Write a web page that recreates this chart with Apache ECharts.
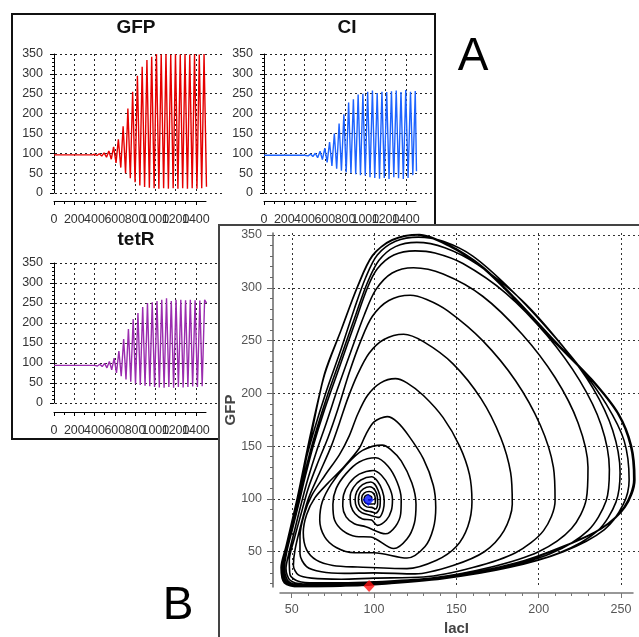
<!DOCTYPE html>
<html><head><meta charset="utf-8">
<script src="https://cdn.jsdelivr.net/npm/echarts@6/dist/echarts.min.js"></script>
<style>html,body{margin:0;padding:0;background:#fff}#c{width:639px;height:637px}</style>
</head><body><div id="c"></div>
<script>
// ---- tick values ----
const timeTicks = [0, 200, 400, 600, 800, 1000, 1200, 1400];
const timeLabelsA = [0, 400, 800, 1200];
const timeLabelsB = [200, 600, 1000, 1400];
const levelTicks = [0, 50, 100, 150, 200, 250, 300, 350];
const lacITicks = [50, 100, 150, 200, 250];
const gfpTicks = [50, 100, 150, 200, 250, 300, 350];

// ---- time series (time, value) ----
const gfpTrace = [[0,96],[380,96],[400,97.5],[424,94.5],[447,99],[471,93],[494,101],[518,90],[541,106],[565,85],[588,116],[612,76],[635,135],[659,64],[682,168],[706,50],[729,213],[753,37],[776,255],[800,27],[823,295],[847,19],[870,318],[894,15],[917,335],[941,13],[964,343],[988,12],[1011,350],[1035,11],[1058,349],[1082,12],[1105,350],[1129,11],[1152,348],[1176,12],[1199,350],[1223,11],[1246,349],[1270,12],[1293,350],[1317,11],[1340,349],[1364,12],[1387,350],[1411,11],[1434,349],[1458,12],[1481,350],[1505,16]];
const ciTrace = [[0,95],[400,95],[412,96.5],[435,93.5],[459,98],[482,92],[506,100],[529,89],[553,105],[576,84],[600,113],[623,77],[647,128],[670,68],[694,150],[717,61],[741,175],[764,56],[788,198],[811,52],[835,228],[858,50],[882,236],[905,47],[929,248],[952,45],[976,250],[999,44],[1023,255],[1046,40],[1070,258],[1093,38],[1117,252],[1140,36],[1164,255],[1187,38],[1211,254],[1234,35],[1258,256],[1281,40],[1305,258],[1328,37],[1352,254],[1375,35],[1399,259],[1422,38],[1446,255],[1469,45],[1493,257],[1505,55]];
const tetRTrace = [[0,94],[400,94],[405,95.5],[428,92.5],[452,97],[475,91],[499,99],[522,88],[546,104],[569,83],[593,112],[616,75],[640,130],[663,67],[687,160],[710,59],[734,185],[757,53],[781,210],[804,48],[828,225],[851,45],[875,240],[898,43],[922,250],[945,42],[969,252],[992,40],[1016,255],[1039,39],[1063,258],[1086,38],[1110,262],[1133,40],[1157,255],[1180,38],[1204,258],[1227,40],[1251,258],[1274,39],[1298,257],[1321,40],[1345,258],[1368,41],[1392,257],[1415,40],[1439,256],[1462,42],[1486,258],[1505,250]];

// ---- phase trajectory (lacI, GFP), spiralling outwards ----
const phaseTrajectory = [
[96.5,99],[98.2,99.4],[98.6,101.6],[97.2,103.2],
[96.5,104],[94.5,102.5],[94,99],[95,96],[97.5,95.2],
[100.5,95.5],[100.8,100.5],[99.5,105.5],
[97,107],[94,105.5],[92.5,101],[93,96],[95.5,92.5],[98.5,92],
[101,90.5],[102.2,95.5],[102,102],[100.5,108.5],
[97.5,111.6],[93.5,109.5],[91,104.5],[90.5,98],[91.5,92.5],[94.5,89],[98,88],
[101,86.5],[103.5,92],[103.8,100],[102.5,108],[100.5,113.8],
[98,116],[93,113.5],[89.5,107],[88.5,99],[89.5,92],[92.5,87],[97,84.8],
[103,82.5],[105.5,89],[106.2,98],[105,108],[102,117],
[98.5,121],[92,118],[87.5,111],[85.5,102],[86,93],[88.5,86],[93,81],[98.5,80],
[102,75],[107.5,80],[110.5,89],[111.2,100],[109,112],[104.5,122.5],
[99.5,127],[91,123.5],[85,115],[81.5,104],[81,93],[83,83],[88,76.5],[95,73.7],
[107,67],[113,74],[116.2,86],[116.5,100],[114,116],[108.5,131],
[101,139],[91,135],[83,124],[77,110],[75,95],[76,80],[81,70],[89,64.5],[98,64],
[112,53],[120,62],[124.5,77],[125.5,95],[123,115],[116.5,136],[110,147],
[105,151],[93,146],[83,132],[74,114],[68.5,97],[67,80],[70,64],[77,54],[88,49],[100,49],
[120,44],[131,55],[136,72],[137.5,92],[136,113],[130,138],[121,160],[114,173],
[108,178],[100,173],[95,161],[91,148],[82,131],[72,115],[64,101],[59,85],[57,68],[59,52],[65,42],[75,37],[90,35.5],
[120,34],[138,42],[150,55],[157,74],[159.5,97],[158,123],[152,150],[142,177],[130,198],[120,210],
[113,214],[104,210],[96,198],[90,180],[85,160],[79,142],[70,122],[62,103],[57.5,85],[55,65],[55,48],[59,36],[68,31],[82,29.5],[100,30],
[125,29],[148,37],[167,50],[179,70],[184,95],[183,125],[177,158],[165,195],[148,228],[130,249],
[118,256],[106,251],[97,238],[90,218],[84,195],[79,172],[74,150],[67,125],[60,100],[55.5,75],[52,52],[51,37],[54,28],[62,25],[80,24],[100,25],
[130,26],[160,35],[186,49],[203,70],[210,98],[209,130],[201,170],[186,212],[166,250],[145,278],[132,289],
[122,293],[109,288],[99,273],[92,250],[85,220],[78,185],[72,158],[66,135],[60,110],[55.5,85],[51.5,62],[48.5,42],[49,28],[54,22],[64,20.5],[80,20.5],[100,21.5],
[135,25],[170,35],[200,50],[220,72],[229,100],[230,130],[224,172],[210,215],[190,256],[166,292],[142,313],
[124,319],[111,314],[101,298],[94,274],[86,240],[78,205],[71,172],[65,145],[60,120],[56,97],[52,72],[48.5,50],[46.5,34],[49,23],[57,19.5],[80,19],[100,20],
[138,24.5],[175,34],[207,48],[230,70],[241,98],[243,128],[238,170],[225,212],[205,255],[180,295],[154,323],[137,333],
[125,335],[112,331],[102,318],[96,300],[88,265],[79,225],[70,185],[63,150],[58,120],[54.5,97],[50.5,72],[47,50],[45.5,34],[48,22],[56,18.5],[80,18.5],[100,19.5],
[140,24.5],[178,34],[212,48.5],[236,70],[247,97],[249.5,125],[245,165],[233,205],[214,246],[190,288],[163,322],[143,338],
[126,343],[113,339],[103,326],[96,305],[89,275],[80,235],[71,195],[63,155],[57.5,122],[54,98],[50,72],[46.5,50],[45,34],[47,21.5],[55,18],[80,18],[100,19],
[142,24.5],[182,35],[215,50],[240,71],[251.5,95],[255,118],[252,155],[241,190],[225,225],[205,262],[182,300],[160,330],[142,344],
[127,348],[113,344],[102,331],[95,310],[88,280],[80,242],[71,202],[63,162],[57,127],[54,102],[49.5,73],[46,50],[44.5,34],[46.5,21],[55,17.5],[80,17.5],[100,18.8],
[145,26],[186,39],[215,55],[238,72],[252,92],[258,118],[256,150],[248,181],[232,213],[210,248],[185,290],[165,320],[145,340],
[127,350],[111,345],[99,330],[90,301],[80,260],[70,219],[62,162],[54,102],[47,55],[44,35],[46,21],[55,17],[75,17.5],[100,19],
[145,25.7],[186,38.7],[215,54.7],[238,71.7],[252.5,92],[258.5,118],[256.5,150],[248.5,181],[232.5,213],[210.5,248.5],[185.5,290.5],[165.5,320.5],[145.5,340.5],
[127.5,350.5],[111,345.5],[99,330.5],[90,301.5],[80,260],[70,218],[61.5,162],[53.5,102],[46.5,55],[43.5,35],[45.5,20.5],[55,16.8],[75,17.2],[100,18.7],
[145,26.2],[186,39.2],[215,55.2],[238,72.2],[252,92.5],[257.8,118.5],[255.8,150.5],[247.8,181.5],[232,213.5],[210,248],[185,290],[165,320],[145,340],
[127,350],[111,345],[99,330],[90,301],[80,260],[70,218.5],[62,162],[54,102],[47,55],[44,35],[46,21],[55,17.2],[75,17.6],[97,18.6]
];
const startPoint = [96.5, 99];
const endPoint = [97, 17.5];

const FONT = 'Liberation Sans, Arial, sans-serif';
const dotted = (c) => ({ show: true, lineStyle: { type: [2, 3], color: c, width: 1 } });
const plain = (v) => String(v);
const labelBase = { fontSize: 12.5, color: '#333', fontFamily: FONT, interval: 0,
  showMinLabel: true, showMaxLabel: true, hideOverlap: false, formatter: plain };

function smallMain(grid, max) {
  return {
    // hidden scale for the dotted time grid; it also carries every second time label
    x: { gridIndex: grid, type: 'value', min: -40, max: max, position: 'bottom',
         axisLine: { show: false, onZero: false },
         axisLabel: Object.assign({}, labelBase, { customValues: timeLabelsB, margin: 20 }),
         axisTick: { show: false, customValues: timeTicks },
         splitLine: dotted('#222') },
    y: { gridIndex: grid, type: 'value', min: 0, max: 350, splitNumber: 7,
         axisLine: { show: true, lineStyle: { color: '#000', width: 1 } },
         axisTick: { show: true, customValues: levelTicks, length: 4, lineStyle: { color: '#000' } },
         minorTick: { show: true, splitNumber: 5, length: 2, lineStyle: { color: '#000' } },
         axisLabel: Object.assign({}, labelBase, { customValues: levelTicks, margin: 7 }),
         splitLine: dotted('#222') }
  };
}
function smallAxis(grid) {
  return {
    x: { gridIndex: grid, type: 'value', min: 0, max: 1500, splitNumber: 8, position: 'bottom',
         axisLine: { show: true, onZero: false, lineStyle: { color: '#000', width: 1 } },
         axisTick: { show: true, customValues: timeTicks, length: 4, lineStyle: { color: '#000' } },
         minorTick: { show: true, splitNumber: 2, length: 3, lineStyle: { color: '#000' } },
         axisLabel: Object.assign({}, labelBase, { customValues: timeLabelsA, margin: 12 }),
         splitLine: { show: false } },
    y: { gridIndex: grid, type: 'value', min: 0, max: 1, show: false }
  };
}

const g0 = smallMain(0, 1678), g1 = smallAxis(1);
const g2 = smallMain(2, 1678), g3 = smallAxis(3);
const g4 = smallMain(4, 1628), g5 = smallAxis(5);
g4.x.axisLabel.margin = 21;

const bMainX = { gridIndex: 6, type: 'value', min: 38.6, max: 261,
  axisLine: { show: false }, axisLabel: { show: false },
  axisTick: { show: false, customValues: lacITicks }, splitLine: dotted('#333') };
const bMainY = { gridIndex: 6, type: 'value', min: 16.6, max: 351.9, splitNumber: 7,
  axisLine: { show: true, lineStyle: { color: '#666', width: 1.5 } },
  axisTick: { show: true, customValues: gfpTicks, length: 6, lineStyle: { color: '#666' } },
  minorTick: { show: true, splitNumber: 5, length: 3, lineStyle: { color: '#666' } },
  axisLabel: Object.assign({}, labelBase, { customValues: gfpTicks, margin: 11, color: '#555' }),
  splitLine: dotted('#333'),
  name: 'GFP', nameLocation: 'middle', nameGap: 35, nameRotate: 90, nameMoveOverlap: false,
  nameTextStyle: { fontSize: 15, fontWeight: 'bold', color: '#444', fontFamily: FONT } };
const bAxisX = { gridIndex: 7, type: 'value', min: 42.9, max: 257.3, position: 'bottom',
  axisLine: { show: true, onZero: false, lineStyle: { color: '#777', width: 1.5 } },
  axisTick: { show: true, customValues: lacITicks, length: 5, lineStyle: { color: '#777' } },
  minorTick: { show: true, splitNumber: 5, length: 3, lineStyle: { color: '#777' } },
  axisLabel: Object.assign({}, labelBase, { customValues: lacITicks, margin: 10, color: '#555' }),
  splitLine: { show: false },
  name: 'lacI', nameLocation: 'middle', nameGap: 28, nameMoveOverlap: false,
  nameTextStyle: { fontSize: 15, fontWeight: 'bold', color: '#444', fontFamily: FONT } };
const bAxisY = { gridIndex: 7, type: 'value', min: 0, max: 1, show: false };

const chart = echarts.init(document.getElementById('c'), null, { renderer: 'canvas' });
chart.setOption({
  animation: false,
  backgroundColor: '#fff',
  grid: [
    { left: 50, top: 54, width: 174, height: 139 },
    { left: 54, top: 190, width: 152, height: 11 },
    { left: 260, top: 54, width: 174, height: 139 },
    { left: 264, top: 190, width: 152, height: 11 },
    { left: 50, top: 263, width: 169, height: 140 },
    { left: 54, top: 401, width: 152, height: 11 },
    { left: 273, top: 233, width: 366, height: 354 },
    { left: 280, top: 585, width: 353, height: 10 }
  ],
  xAxis: [g0.x, g1.x, g2.x, g3.x, g4.x, g5.x, bMainX, bAxisX],
  yAxis: [g0.y, g1.y, g2.y, g3.y, g4.y, g5.y, bMainY, bAxisY],
  graphic: [
    { type: 'polyline', shape: { points: [[219,439],[12,439],[12,14],[435,14],[435,224]] },
      style: { stroke: '#111', lineWidth: 2, fill: null }, z: 10 },
    { type: 'rect', shape: { x: 219, y: 225, width: 440, height: 440 },
      style: { stroke: '#444', lineWidth: 2, fill: null }, z: 10 },
    { type: 'text', x: 136, y: 28, style: { text: 'GFP', align: 'center', verticalAlign: 'middle', font: 'bold 19px ' + FONT, fill: '#111' } },
    { type: 'text', x: 347, y: 28, style: { text: 'CI', align: 'center', verticalAlign: 'middle', font: 'bold 19px ' + FONT, fill: '#111' } },
    { type: 'text', x: 136, y: 240, style: { text: 'tetR', align: 'center', verticalAlign: 'middle', font: 'bold 19px ' + FONT, fill: '#111' } },
    { type: 'text', x: 473, y: 57, style: { text: 'A', align: 'center', verticalAlign: 'middle', font: '46px ' + FONT, fill: '#000' } },
    { type: 'text', x: 178, y: 606, style: { text: 'B', align: 'center', verticalAlign: 'middle', font: '46px ' + FONT, fill: '#000' } }
  ],
  series: [
    { type: 'line', xAxisIndex: 0, yAxisIndex: 0, data: gfpTrace, showSymbol: false, symbol: 'none',
      lineStyle: { color: '#e60000', width: 1.4 }, z: 3 },
    { type: 'line', xAxisIndex: 2, yAxisIndex: 2, data: ciTrace, showSymbol: false, symbol: 'none',
      lineStyle: { color: '#1e64ff', width: 1.4 }, z: 3 },
    { type: 'line', xAxisIndex: 4, yAxisIndex: 4, data: tetRTrace, showSymbol: false, symbol: 'none',
      lineStyle: { color: '#9b2daf', width: 1.4 }, z: 3 },
    { type: 'line', xAxisIndex: 6, yAxisIndex: 6, data: phaseTrajectory, showSymbol: false, symbol: 'none',
      smooth: 0.3, lineStyle: { color: '#000', width: 1.6 }, z: 3 },
    { type: 'scatter', xAxisIndex: 6, yAxisIndex: 6, symbol: 'diamond', symbolSize: [11, 12], z: 5,
      data: [ { value: startPoint, itemStyle: { color: '#0010ff' } },
              { value: endPoint, itemStyle: { color: '#ff1010' } } ] }
  ]
});
</script></body></html>
